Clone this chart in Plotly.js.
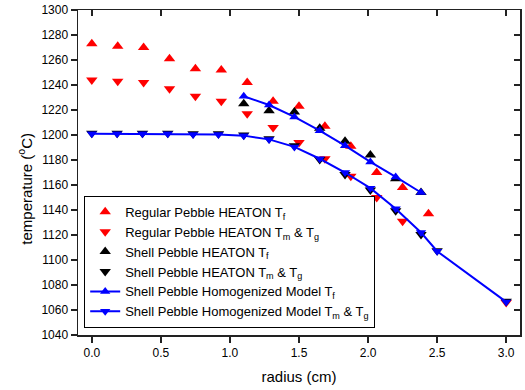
<!DOCTYPE html>
<html>
<head>
<meta charset="utf-8">
<script src="https://cdn.plot.ly/plotly-3.0.1.min.js"></script>
<style>html,body{margin:0;padding:0;background:#fff;}#chart{width:525px;height:390px;}</style>
</head>
<body>
<div id="chart"></div>
<script>
// Regular pebble (HEATON)
const xRegF = [0, 0.1875, 0.375, 0.5625, 0.75, 0.9375, 1.125, 1.3125, 1.5, 1.6875, 1.875, 2.0625, 2.25, 2.4375];
const regTf = [1273, 1271, 1270, 1261, 1253, 1252, 1242, 1227, 1223, 1207, 1191, 1170, 1158, 1137];
const xRegM = [0, 0.1875, 0.375, 0.5625, 0.75, 0.9375, 1.125, 1.3125, 1.5, 1.6875, 1.875, 2.0625, 2.25, 3.0];
const regTm = [1244, 1243, 1242, 1237, 1231, 1227, 1217, 1206, 1194, 1181, 1167, 1150, 1131, 1066];
// Shell pebble
const xShellF = [1.1, 1.2833, 1.4667, 1.65, 1.8333, 2.0167, 2.2, 2.3833];
const shellTf = [1225, 1219.5, 1218.5, 1205.5, 1195, 1184, 1165, 1154];
const homTf   = [1231, 1224, 1214.5, 1203.5, 1191.5, 1178.5, 1166.5, 1154];
const xShellM = [0, 0.1833, 0.3667, 0.55, 0.7333, 0.9167, 1.1, 1.2833, 1.4667, 1.65, 1.8333, 2.0167, 2.2, 2.3833, 2.5, 3.0];
const shellTm = [1201.5, 1201.5, 1201.5, 1201.5, 1201, 1201, 1200, 1197, 1191.5, 1180.5, 1168.5, 1156, 1139.5, 1120.5, 1107.5, 1067];
const homTm   = [1201, 1201, 1201, 1201, 1200.5, 1200.5, 1199.5, 1196.5, 1190.5, 1181, 1170, 1157.5, 1141, 1122, 1107, 1066.5];

const names = [
  'Regular Pebble HEATON T<sub>f</sub>',
  'Regular Pebble HEATON T<sub>m</sub> &amp; T<sub>g</sub>',
  'Shell Pebble HEATON T<sub>f</sub>',
  'Shell Pebble HEATON T<sub>m</sub> &amp; T<sub>g</sub>',
  'Shell Pebble Homogenized Model T<sub>f</sub>',
  'Shell Pebble Homogenized Model T<sub>m</sub> &amp; T<sub>g</sub>'
];
const xTitle = 'radius (cm)';
const yTitle = 'temperature (<sup>o</sup>C)';
const xRange = [-0.1, 3.1];
const yRange = [1040, 1300];

const traces = [
  {x: xRegF, y: regTf, name: names[0], mode: 'markers', type: 'scatter',
   marker: {symbol: 'triangle-up', size: 10, color: '#ff0000'}},
  {x: xRegM, y: regTm, name: names[1], mode: 'markers', type: 'scatter',
   marker: {symbol: 'triangle-down', size: 10, color: '#ff0000'}},
  {x: xShellF, y: shellTf, name: names[2], mode: 'markers', type: 'scatter',
   marker: {symbol: 'triangle-up', size: 10, color: '#000000'}},
  {x: xShellM, y: shellTm, name: names[3], mode: 'markers', type: 'scatter',
   marker: {symbol: 'triangle-down', size: 10, color: '#000000'}},
  {x: xShellF, y: homTf, name: names[4], mode: 'lines+markers', type: 'scatter',
   line: {color: '#0000ff', width: 2}, marker: {symbol: 'triangle-up', size: 9, color: '#0000ff'}},
  {x: xShellM, y: homTm, name: names[5], mode: 'lines+markers', type: 'scatter',
   line: {color: '#0000ff', width: 2}, marker: {symbol: 'triangle-down', size: 9, color: '#0000ff'}},
  {x: [null], y: [null], xaxis: 'x2', yaxis: 'y2', showlegend: false, hoverinfo: 'skip', mode: 'markers'}
];

const font = {family: 'Liberation Sans, Arial, sans-serif', color: '#000', size: 12};
const layout = {
  width: 525, height: 390,
  margin: {l: 78, r: 5, t: 10, b: 55},
  paper_bgcolor: '#fff', plot_bgcolor: '#fff',
  font: font,
  showlegend: true,
  xaxis: {range: xRange, tick0: 0, dtick: 0.5, tickformat: '.1f',
    ticks: 'outside', ticklen: 6, tickwidth: 1.5, tickcolor: '#222',
    showline: true, linecolor: '#222', linewidth: 1.5, mirror: true,
    showgrid: false, zeroline: false,
    title: {text: xTitle, font: {size: 15}, standoff: 12}},
  yaxis: {range: yRange, tick0: 1040, dtick: 20,
    ticks: 'outside', ticklen: 6, tickwidth: 1.5, tickcolor: '#222',
    showline: true, linecolor: '#222', linewidth: 1.5, mirror: true,
    showgrid: false, zeroline: false},
  xaxis2: {overlaying: 'x', side: 'top', range: xRange, tick0: 0, dtick: 0.5,
    ticks: 'inside', ticklen: 6, tickwidth: 1.5, tickcolor: '#222',
    showticklabels: false, showline: false, showgrid: false, zeroline: false},
  yaxis2: {overlaying: 'y', side: 'right', range: yRange, tick0: 1040, dtick: 20,
    ticks: 'inside', ticklen: 6, tickwidth: 1.5, tickcolor: '#222',
    showticklabels: false, showline: false, showgrid: false, zeroline: false},
  annotations: [{text: yTitle, textangle: -90, xref: 'paper', yref: 'paper',
    x: -0.12, y: 0.45, xanchor: 'center', yanchor: 'middle', showarrow: false,
    font: {size: 15}}],
  legend: {x: 0.014, y: 0.022, xanchor: 'left', yanchor: 'bottom',
    bgcolor: '#fff', bordercolor: '#000', borderwidth: 1,
    font: {size: 13}, tracegroupgap: 0}
};

Plotly.newPlot('chart', traces, layout, {staticPlot: true});
</script>
</body>
</html>
